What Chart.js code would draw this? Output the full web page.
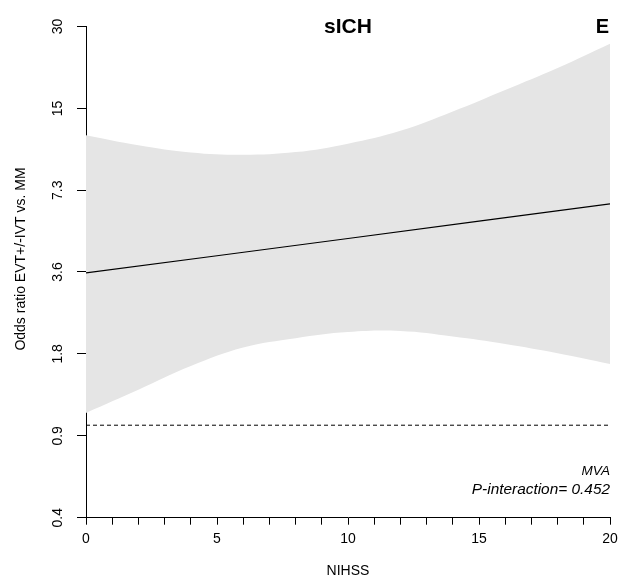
<!DOCTYPE html>
<html>
<head>
<meta charset="utf-8">
<script src="https://cdn.jsdelivr.net/npm/chart.js@4.4.1/dist/chart.umd.min.js"></script>
<style>
html,body{margin:0;padding:0;background:#fff;}
canvas{display:block;}
</style>
</head>
<body>
<canvas id="c" width="621" height="580"></canvas>
<script>
// ---- data ----
const nihssLine = [0, 5, 10, 15, 20];
const orLine = [3.63, 4.2, 4.86, 5.63, 6.52];

const nihssBand = [0, 2, 4, 6, 8, 10, 12, 14, 16, 18, 20];
const bandUpper = [11.65, 10.7, 10.07, 9.87, 10.1, 10.85, 12.1, 14.25, 17.1, 20.6, 25.3];
const bandLower = [1.11, 1.35, 1.65, 1.93, 2.09, 2.2, 2.22, 2.12, 1.99, 1.84, 1.68];

const refX = [0, 20];
const refY = [1, 1];

const yTickValues = [0.457, 0.914, 1.83, 3.66, 7.31, 14.6, 29.25];
const yTickLabels = ['0.4', '0.9', '1.8', '3.6', '7.3', '15', '30'];
const xTickLabelEvery = 5;

const FONT = "'Liberation Sans', Arial, Helvetica, sans-serif";

const pts = (xs, ys) => xs.map((x, i) => ({x: x, y: ys[i]}));

const textPlugin = {
  id: 'texts',
  afterDraw(chart) {
    const ctx = chart.ctx;
    const ca = chart.chartArea;
    const ys = chart.scales.y;
    ctx.save();
    ctx.fillStyle = '#000';
    // y tick labels, rotated
    ctx.font = "14px " + FONT;
    ctx.textAlign = 'center';
    ctx.textBaseline = 'alphabetic';
    yTickValues.forEach((v, i) => {
      const py = ys.getPixelForValue(v);
      ctx.save();
      ctx.translate(62, py);
      ctx.rotate(-Math.PI / 2);
      ctx.fillText(yTickLabels[i], 0, 0);
      ctx.restore();
    });
    // y axis title
    ctx.save();
    ctx.translate(25, 259);
    ctx.rotate(-Math.PI / 2);
    ctx.fillText('Odds ratio EVT+/-IVT vs. MM', 0, 0);
    ctx.restore();
    // title
    ctx.font = "bold 21px " + FONT;
    ctx.textAlign = 'center';
    ctx.fillText('sICH', (ca.left + ca.right) / 2, 33);
    ctx.font = "bold 20px " + FONT;
    ctx.textAlign = 'right';
    ctx.fillText('E', 609, 33);
    // annotations
    ctx.font = "italic 13.5px " + FONT;
    ctx.fillText('MVA', 610, 475);
    ctx.font = "italic 15.4px " + FONT;
    ctx.fillText('P-interaction= 0.452', 610, 494);
    ctx.restore();
  }
};

new Chart(document.getElementById('c'), {
  type: 'line',
  data: {
    datasets: [
      {
        data: pts(nihssLine, orLine),
        borderColor: '#000',
        borderWidth: 1.2,
        pointRadius: 0,
        fill: false,
        tension: 0
      },
      {
        data: pts(refX, refY),
        borderColor: '#000',
        borderWidth: 1,
        borderDash: [4, 3],
        pointRadius: 0,
        fill: false
      },
      {
        data: pts(nihssBand, bandUpper),
        borderWidth: 0,
        borderColor: 'rgba(0,0,0,0)',
        backgroundColor: '#e5e5e5',
        pointRadius: 0,
        fill: '+1',
        tension: 0.4
      },
      {
        data: pts(nihssBand, bandLower),
        borderWidth: 0,
        borderColor: 'rgba(0,0,0,0)',
        pointRadius: 0,
        fill: false,
        tension: 0.4
      }
    ]
  },
  options: {
    responsive: false,
    animation: false,
    events: [],
    layout: {padding: {left: 0, right: 11, top: 26.5, bottom: 0}},
    plugins: {legend: {display: false}, tooltip: {enabled: false}, title: {display: false}},
    scales: {
      x: {
        type: 'linear',
        min: 0,
        max: 20,
        afterFit(s) { s.height = 62.3; s.paddingLeft = 0; s.paddingRight = 0; },
        border: {display: true, color: '#000', width: 1},
        grid: {display: true, drawOnChartArea: false, drawTicks: true, tickLength: 7, color: '#000', lineWidth: 1},
        ticks: {
          stepSize: 1,
          autoSkip: false,
          maxRotation: 0,
          minRotation: 0,
          padding: 6,
          color: '#000',
          font: {family: FONT, size: 14},
          callback: (v) => (v % xTickLabelEvery === 0 ? String(v) : '')
        },
        title: {display: true, text: 'NIHSS', color: '#000', font: {family: FONT, size: 14}, padding: {top: 0, bottom: 0}}
      },
      y: {
        type: 'logarithmic',
        min: yTickValues[0],
        max: yTickValues[yTickValues.length - 1],
        afterFit(s) { s.width = 86; s.paddingTop = 0; s.paddingBottom = 0; },
        afterBuildTicks(s) { s.ticks = yTickValues.map(v => ({value: v})); },
        border: {display: true, color: '#000', width: 1},
        grid: {display: true, drawOnChartArea: false, drawTicks: true, tickLength: 9, color: '#000', lineWidth: 1},
        ticks: {display: false},
        title: {display: false}
      }
    }
  },
  plugins: [textPlugin]
});
</script>
</body>
</html>
